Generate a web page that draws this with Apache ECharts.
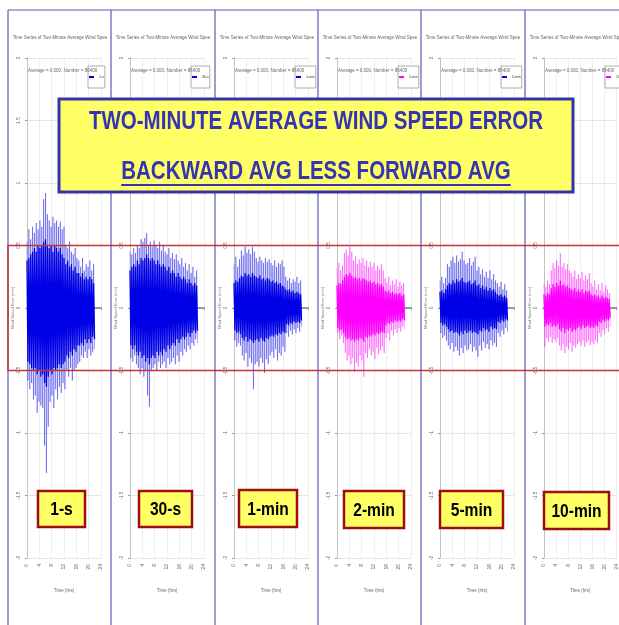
<!DOCTYPE html>
<html><head><meta charset="utf-8">
<script src="https://cdn.jsdelivr.net/npm/echarts@6/dist/echarts.min.js"></script>
<style>html,body{margin:0;padding:0;background:#fff}#c{width:619px;height:625px}</style>
</head><body><div id="c"></div><script>
// ---------- data ----------
const averagingPeriods = ['1-s', '30-s', '1-min', '2-min', '5-min', '10-min'];
const panelColors = ['#0000e6', '#0000e6', '#0000e6', '#ff00ff', '#0000e6', '#ff00ff'];
const xTickLabels = ['0', '4', '8', '12', '16', '20', '24'];
const binStepHrs = 0.6;

// spike tips (outer envelope) and dense core, m/s, per 0.6-h bin
const spikeHi_1s = [0.53,0.63,0.55,0.65,0.6,0.68,0.63,0.7,0.65,0.87,0.92,0.75,0.7,0.65,0.73,0.68,0.7,0.65,0.69,0.63,0.65,0.5,0.48,0.53,0.45,0.43,0.48,0.4,0.38,0.33,0.4,0.3,0.35,0.33,0.38,0.3,0.35];
const spikeLo_1s = [-0.58,-0.65,-0.6,-0.73,-0.7,-0.84,-0.75,-0.78,-0.8,-1.1,-1.32,-0.95,-0.75,-0.7,-0.8,-0.65,-0.73,-0.63,-0.68,-0.6,-0.65,-0.5,-0.55,-0.48,-0.58,-0.5,-0.48,-0.45,-0.43,-0.38,-0.4,-0.35,-0.4,-0.33,-0.38,-0.35,-0.33];
const coreHi_1s = [0.38,0.4,0.43,0.45,0.48,0.45,0.5,0.48,0.5,0.53,0.55,0.5,0.48,0.5,0.45,0.5,0.48,0.45,0.48,0.43,0.4,0.35,0.38,0.33,0.35,0.3,0.33,0.28,0.28,0.25,0.28,0.23,0.25,0.23,0.25,0.23,0.2];
const coreLo_1s = [-0.43,-0.45,-0.48,-0.5,-0.48,-0.53,-0.5,-0.55,-0.53,-0.6,-0.63,-0.55,-0.5,-0.53,-0.48,-0.5,-0.48,-0.45,-0.48,-0.45,-0.43,-0.38,-0.4,-0.35,-0.38,-0.33,-0.35,-0.3,-0.3,-0.28,-0.3,-0.25,-0.28,-0.25,-0.28,-0.23,-0.25];

const spikeHi_30s = [0.45,0.43,0.48,0.44,0.5,0.48,0.55,0.53,0.56,0.6,0.5,0.53,0.49,0.54,0.5,0.48,0.53,0.46,0.5,0.45,0.43,0.48,0.4,0.44,0.39,0.43,0.38,0.35,0.4,0.33,0.36,0.3,0.35,0.28,0.33,0.25,0.3];
const spikeLo_30s = [-0.4,-0.43,-0.38,-0.45,-0.48,-0.53,-0.48,-0.55,-0.5,-0.7,-0.79,-0.5,-0.48,-0.45,-0.5,-0.43,-0.48,-0.45,-0.43,-0.48,-0.4,-0.45,-0.43,-0.4,-0.45,-0.38,-0.43,-0.35,-0.38,-0.33,-0.35,-0.3,-0.33,-0.28,-0.3,-0.25,-0.28];
const coreHi_30s = [0.3,0.33,0.35,0.33,0.38,0.35,0.4,0.38,0.4,0.43,0.4,0.38,0.4,0.38,0.35,0.38,0.35,0.33,0.35,0.33,0.3,0.33,0.28,0.3,0.28,0.25,0.28,0.25,0.23,0.25,0.23,0.2,0.23,0.2,0.18,0.2,0.18];
const coreLo_30s = [-0.3,-0.33,-0.3,-0.35,-0.38,-0.35,-0.4,-0.38,-0.43,-0.4,-0.45,-0.4,-0.38,-0.4,-0.35,-0.38,-0.35,-0.38,-0.33,-0.35,-0.3,-0.33,-0.3,-0.28,-0.3,-0.25,-0.28,-0.25,-0.23,-0.25,-0.23,-0.2,-0.23,-0.2,-0.18,-0.2,-0.18];

const spikeHi_1min = [0.35,0.41,0.33,0.39,0.46,0.42,0.49,0.44,0.47,0.43,0.49,0.45,0.4,0.37,0.41,0.38,0.36,0.4,0.37,0.39,0.36,0.34,0.38,0.33,0.36,0.35,0.38,0.33,0.25,0.22,0.24,0.2,0.23,0.21,0.25,0.2,0.22];
const spikeLo_1min = [-0.26,-0.31,-0.28,-0.3,-0.38,-0.42,-0.36,-0.47,-0.4,-0.44,-0.65,-0.45,-0.43,-0.47,-0.4,-0.44,-0.52,-0.41,-0.45,-0.38,-0.35,-0.4,-0.33,-0.42,-0.36,-0.38,-0.31,-0.35,-0.2,-0.23,-0.18,-0.21,-0.17,-0.2,-0.16,-0.19,-0.15];
const coreHi_1min = [0.2,0.22,0.21,0.24,0.26,0.25,0.28,0.26,0.27,0.25,0.28,0.26,0.25,0.24,0.26,0.23,0.24,0.22,0.24,0.23,0.21,0.22,0.2,0.21,0.19,0.2,0.18,0.17,0.15,0.14,0.15,0.13,0.14,0.12,0.13,0.12,0.11];
const coreLo_1min = [-0.18,-0.2,-0.19,-0.21,-0.24,-0.26,-0.23,-0.27,-0.25,-0.26,-0.28,-0.26,-0.25,-0.27,-0.24,-0.26,-0.27,-0.24,-0.25,-0.23,-0.22,-0.23,-0.21,-0.22,-0.2,-0.21,-0.19,-0.2,-0.13,-0.14,-0.12,-0.13,-0.11,-0.12,-0.11,-0.12,-0.1];

const spikeHi_2min = [0.32,0.36,0.3,0.34,0.44,0.47,0.42,0.49,0.45,0.38,0.41,0.35,0.39,0.36,0.4,0.34,0.38,0.33,0.37,0.33,0.36,0.3,0.34,0.31,0.35,0.3,0.24,0.2,0.25,0.18,0.22,0.19,0.23,0.17,0.21,0.18,0.2];
const spikeLo_2min = [-0.2,-0.25,-0.22,-0.28,-0.36,-0.42,-0.38,-0.45,-0.4,-0.51,-0.44,-0.47,-0.38,-0.42,-0.55,-0.36,-0.4,-0.33,-0.38,-0.35,-0.41,-0.32,-0.37,-0.34,-0.31,-0.36,-0.24,-0.2,-0.26,-0.18,-0.22,-0.17,-0.2,-0.16,-0.19,-0.15,-0.17];
const coreHi_2min = [0.18,0.2,0.19,0.22,0.25,0.27,0.26,0.28,0.26,0.24,0.25,0.23,0.24,0.22,0.24,0.23,0.22,0.21,0.22,0.2,0.21,0.19,0.2,0.18,0.19,0.17,0.14,0.13,0.14,0.12,0.13,0.11,0.12,0.11,0.12,0.1,0.11];
const coreLo_2min = [-0.16,-0.18,-0.17,-0.2,-0.23,-0.25,-0.24,-0.26,-0.25,-0.27,-0.25,-0.26,-0.24,-0.25,-0.27,-0.23,-0.24,-0.22,-0.23,-0.21,-0.22,-0.2,-0.21,-0.2,-0.19,-0.2,-0.14,-0.12,-0.13,-0.11,-0.12,-0.1,-0.11,-0.1,-0.11,-0.09,-0.1];

const spikeHi_5min = [0.22,0.25,0.2,0.24,0.35,0.33,0.38,0.41,0.36,0.42,0.37,0.39,0.45,0.38,0.35,0.36,0.4,0.34,0.37,0.41,0.3,0.33,0.27,0.31,0.25,0.29,0.24,0.3,0.23,0.27,0.22,0.2,0.17,0.21,0.15,0.19,0.14];
const spikeLo_5min = [-0.2,-0.24,-0.22,-0.26,-0.3,-0.33,-0.28,-0.35,-0.31,-0.34,-0.38,-0.32,-0.36,-0.3,-0.34,-0.33,-0.29,-0.35,-0.31,-0.34,-0.39,-0.3,-0.34,-0.27,-0.32,-0.29,-0.33,-0.26,-0.3,-0.28,-0.31,-0.2,-0.23,-0.18,-0.21,-0.16,-0.19];
const coreHi_5min = [0.13,0.14,0.12,0.15,0.18,0.2,0.19,0.22,0.2,0.23,0.21,0.22,0.24,0.21,0.2,0.21,0.22,0.19,0.2,0.22,0.18,0.19,0.16,0.18,0.15,0.17,0.14,0.16,0.14,0.15,0.13,0.11,0.1,0.11,0.09,0.1,0.08];
const coreLo_5min = [-0.12,-0.14,-0.13,-0.15,-0.17,-0.19,-0.18,-0.2,-0.19,-0.2,-0.22,-0.19,-0.21,-0.18,-0.2,-0.19,-0.18,-0.2,-0.19,-0.2,-0.21,-0.18,-0.19,-0.16,-0.18,-0.17,-0.19,-0.15,-0.17,-0.16,-0.17,-0.11,-0.12,-0.1,-0.11,-0.09,-0.1];

const spikeHi_10min = [0.2,0.17,0.22,0.19,0.3,0.36,0.32,0.38,0.34,0.44,0.33,0.36,0.31,0.35,0.3,0.28,0.25,0.3,0.23,0.27,0.24,0.29,0.22,0.26,0.23,0.28,0.2,0.17,0.22,0.15,0.19,0.14,0.2,0.13,0.18,0.15,0.12];
const spikeLo_10min = [-0.31,-0.24,-0.27,-0.23,-0.28,-0.25,-0.27,-0.24,-0.3,-0.34,-0.29,-0.36,-0.31,-0.33,-0.28,-0.35,-0.3,-0.32,-0.29,-0.27,-0.3,-0.26,-0.31,-0.28,-0.26,-0.3,-0.27,-0.29,-0.26,-0.28,-0.2,-0.23,-0.18,-0.21,-0.16,-0.19,-0.15];
const coreHi_10min = [0.11,0.1,0.12,0.11,0.16,0.19,0.17,0.2,0.18,0.22,0.18,0.19,0.17,0.18,0.16,0.15,0.14,0.16,0.13,0.15,0.13,0.15,0.12,0.14,0.13,0.14,0.11,0.1,0.11,0.09,0.1,0.08,0.1,0.08,0.09,0.08,0.07];
const coreLo_10min = [-0.15,-0.13,-0.14,-0.12,-0.15,-0.14,-0.15,-0.13,-0.17,-0.19,-0.16,-0.2,-0.17,-0.18,-0.16,-0.19,-0.17,-0.18,-0.16,-0.15,-0.17,-0.14,-0.16,-0.15,-0.14,-0.16,-0.15,-0.16,-0.14,-0.15,-0.11,-0.12,-0.1,-0.11,-0.09,-0.1,-0.08];

const limitBand = [0.5, -0.5];
const titleLine1 = 'TWO-MINUTE AVERAGE WIND SPEED ERROR';
const titleLine2 = 'BACKWARD AVG LESS FORWARD AVG';
const panelTitle = 'Time Series of Two-Minute Average Wind Speed Error, Backward Avg less Forward Avg';
const panelStats = 'Average = 0.000, Number = 86400';

// ---------- layout ----------
const panelLefts = [8, 111, 215, 318, 421, 525];
const W = 619, H = 625;
const spikes = [[spikeHi_1s, spikeLo_1s], [spikeHi_30s, spikeLo_30s], [spikeHi_1min, spikeLo_1min], [spikeHi_2min, spikeLo_2min], [spikeHi_5min, spikeLo_5min], [spikeHi_10min, spikeLo_10min]];
const cores = [[coreHi_1s, coreLo_1s], [coreHi_30s, coreLo_30s], [coreHi_1min, coreLo_1min], [coreHi_2min, coreLo_2min], [coreHi_5min, coreLo_5min], [coreHi_10min, coreLo_10min]];

function zigzag(hi, lo) {
  const d = [];
  hi.forEach((h, i) => { d.push([i * binStepHrs, h]); d.push([i * binStepHrs + binStepHrs / 2, lo[i]]); });
  return d;
}

const FONT = '"Liberation Sans", Arial, sans-serif';
const SQ = 0.82; // horizontal condensing (narrow face)
const chart = echarts.init(document.getElementById('c'), null, { renderer: 'canvas' });

const grids = [], xAxes = [], yAxes = [], series = [], legends = [];
averagingPeriods.forEach((p, i) => {
  const L = panelLefts[i];
  grids.push({ left: L + 19, top: 58, width: 74, height: 500 });
  xAxes.push({
    type: 'value', gridIndex: i, min: 0, max: 24, interval: 4,
    axisLine: { lineStyle: { color: '#9a9a9a', width: 2 } },
    axisTick: { length: 2, lineStyle: { color: '#999' } },
    axisLabel: { fontSize: 5, rotate: 90, margin: 6, color: '#666',
      formatter: v => xTickLabels[Math.round(v / 4)] },
    splitLine: { show: true, lineStyle: { color: '#d4d4d4', type: 'dotted', width: 0.8 } },
    name: 'Time (hrs)', nameLocation: 'middle', nameGap: 30,
    nameTextStyle: { fontSize: 4.5, color: '#666' }
  });
  yAxes.push({
    type: 'value', gridIndex: i, min: -2, max: 2, interval: 0.5, offset: 5,
    axisLine: { show: true, lineStyle: { color: '#c4c4c4', width: 1 } },
    axisTick: { show: true, length: 2, lineStyle: { color: '#999' } },
    axisLabel: { fontSize: 4.5, rotate: 90, margin: 1, color: '#666' },
    splitLine: { show: true, lineStyle: { color: '#e0e0e0', width: 0.8 } },
    name: 'Wind Speed Error (m/s)', nameLocation: 'middle', nameGap: 7,
    nameTextStyle: { fontSize: 4, color: '#777' }
  });
  series.push({
    type: 'line', name: p + ' spikes', xAxisIndex: i, yAxisIndex: i, data: zigzag(spikes[i][0], spikes[i][1]),
    showSymbol: false, symbol: 'none', silent: true,
    lineStyle: { color: panelColors[i], width: 0.8, opacity: 0.45 }, z: 3
  });
  series.push({
    type: 'line', name: p, xAxisIndex: i, yAxisIndex: i, data: zigzag(cores[i][0], cores[i][1]),
    showSymbol: false, symbol: 'none', silent: true, color: panelColors[i],
    lineStyle: { color: panelColors[i], width: 1.3 }, z: 4
  });
  legends.push({
    data: [p], left: L + 80, top: 66, orient: 'vertical', icon: 'rect', itemWidth: 5, itemHeight: 2,
    padding: [9, 1, 9, 1], borderColor: '#999', borderWidth: 0.8, backgroundColor: '#fff',
    textStyle: { fontSize: 3.5, color: '#333' }, selectedMode: false, itemGap: 0
  });
});

chart.setOption({
  animation: false,
  backgroundColor: '#fff',
  grid: grids, xAxis: xAxes, yAxis: yAxes, series: series, legend: legends
});

// ---------- annotations ----------
const yTop = chart.convertToPixel({ gridIndex: 0 }, [0, limitBand[0]])[1];
const yBot = chart.convertToPixel({ gridIndex: 0 }, [0, limitBand[1]])[1];

const ctx = document.createElement('canvas').getContext('2d');
ctx.font = 'bold 25px ' + FONT;
const line2W = ctx.measureText(titleLine2).width * SQ;

const g = [];
g.push({ type: 'line', shape: { x1: 8, y1: 10, x2: W, y2: 10 }, style: { stroke: '#5a5ab8', lineWidth: 1.2 }, z: 50 });
panelLefts.forEach(L => g.push({ type: 'line', shape: { x1: L, y1: 10, x2: L, y2: H }, style: { stroke: '#5a5ab8', lineWidth: 1.2 }, z: 50 }));
panelLefts.forEach((L, i) => {
  g.push({ type: 'text', x: L + 52, y: 38, style: { text: panelTitle + ' (' + averagingPeriods[i] + ')', fontSize: 4.5, fill: '#666', align: 'center', verticalAlign: 'middle', width: 97, overflow: 'truncate', ellipsis: '' }, z: 40 });
  g.push({ type: 'text', x: L + 20, y: 71, style: { text: panelStats, fontSize: 4.5, fill: '#666', align: 'left', verticalAlign: 'middle' }, z: 40 });
});
g.push({ type: 'rect', shape: { x: 8, y: yTop, width: W + 5 - 8, height: yBot - yTop }, style: { fill: 'none', stroke: '#c83232', lineWidth: 1.5 }, z: 60 });
g.push({ type: 'rect', shape: { x: 59, y: 99, width: 514, height: 93 }, style: { fill: '#ffff66', stroke: '#3434a8', lineWidth: 3 }, z: 70 });
g.push({ type: 'text', x: 316, y: 122, scaleX: SQ, style: { text: titleLine1, fill: '#3434b4', fontSize: 25, fontWeight: 'bold', fontFamily: FONT, align: 'center', verticalAlign: 'middle' }, z: 71 });
g.push({ type: 'text', x: 316, y: 172, scaleX: SQ, style: { text: titleLine2, fill: '#3434b4', fontSize: 25, fontWeight: 'bold', fontFamily: FONT, align: 'center', verticalAlign: 'middle' }, z: 71 });
g.push({ type: 'line', shape: { x1: 316 - line2W / 2, y1: 185, x2: 316 + line2W / 2, y2: 185 }, style: { stroke: '#3434b4', lineWidth: 2 }, z: 71 });
const labelBoxes = [[38, 491, 47, 36], [139, 491, 53, 36], [239, 490, 58, 37], [344, 491, 60, 37], [440, 491, 63, 37], [544, 492, 65, 37]];
labelBoxes.forEach((b, i) => {
  g.push({ type: 'rect', shape: { x: b[0], y: b[1], width: b[2], height: b[3] }, style: { fill: '#ffff66', stroke: '#9b0f0f', lineWidth: 2.5 }, z: 70 });
  g.push({ type: 'text', x: b[0] + b[2] / 2, y: b[1] + b[3] / 2 + 1, scaleX: SQ, style: { text: averagingPeriods[i], fill: '#000', fontSize: 19, fontWeight: 'bold', fontFamily: FONT, align: 'center', verticalAlign: 'middle' }, z: 71 });
});

chart.setOption({ graphic: { elements: g } });
</script></body></html>
